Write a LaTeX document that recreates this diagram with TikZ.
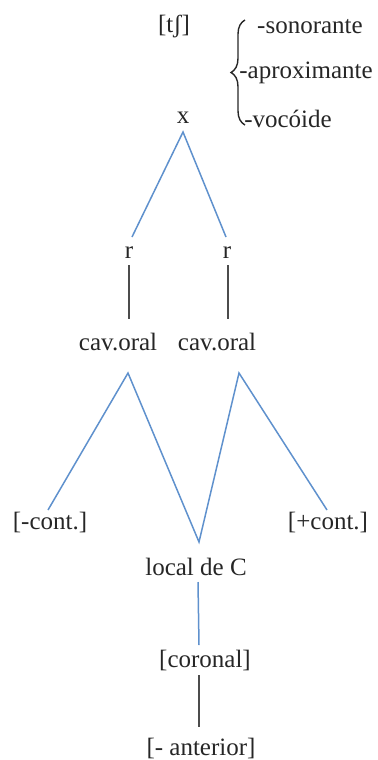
\documentclass[tikz,border=0pt]{standalone}
\usepackage{fontspec}
\setmainfont{Liberation Serif}
\newfontfamily\tnr{Liberation Serif}
\usetikzlibrary{decorations.pathreplacing}
\begin{document}
\begin{tikzpicture}[x=0.5pt,y=-0.5pt,
  lbl/.style={inner sep=0pt,text=black!85,font=\tnr\fontsize{12.5}{15}\selectfont},
  blue line/.style={line width=0.75pt,draw={rgb,255:red,95;green,145;blue,205}},
  gray line/.style={draw=black!70,line width=1pt}]
\useasboundingbox (0,0) rectangle (377,760);
% nodes
\node[lbl] (tsh) at (174,27) {[tʃ]};
\node[lbl] (son) at (310,27) {-sonorante};
\node[lbl] (apr) at (306,73) {-aproximante};
\node[lbl] (voc) at (288,119) {-vocóide};
\node[lbl] (x) at (183,118) {x};
\node[lbl] (rL) at (129,253) {r};
\node[lbl] (rR) at (227,253) {r};
\node[lbl] (cL) at (118,342) {cav.oral};
\node[lbl] (cR) at (217,342) {cav.oral};
\node[lbl] (mc) at (50,522) {[-cont.]};
\node[lbl] (pc) at (328,522) {[+cont.]};
\node[lbl] (loc) at (196,567) {local de C};
\node[lbl] (cor) at (205,660) {[coronal]};
\node[lbl] (ant) at (201,748) {[- anterior]};
% connector end points
\coordinate (xb) at (183,132);
\coordinate (rLt) at (132,237);
\coordinate (rRt) at (226,237);
\coordinate (rLb) at (129,265);
\coordinate (rRb) at (228,265);
\coordinate (cLt) at (129,319);
\coordinate (cRt) at (228,319);
\coordinate (cLa) at (128,373);
\coordinate (cRa) at (239,373);
\coordinate (mct) at (48,510);
\coordinate (pct) at (327,510);
\coordinate (vb) at (199,542);
\coordinate (locb) at (198,582);
\coordinate (cort) at (199,645);
\coordinate (corb) at (199,675);
\coordinate (antt) at (199,727);
% brace
\draw[black!85,line width=0.7pt,decorate,decoration={brace,amplitude=7pt}] (245,125) -- (245,20);
% connectors
\draw[blue line] (rLt) -- (xb) -- (rRt);
\draw[gray line] (rLb) -- (cLt);
\draw[gray line] (rRb) -- (cRt);
\draw[blue line] (mct) -- (cLa) -- (vb) -- (cRa) -- (pct);
\draw[blue line] (locb) -- (cort);
\draw[gray line] (corb) -- (antt);
\end{tikzpicture}
\end{document}
